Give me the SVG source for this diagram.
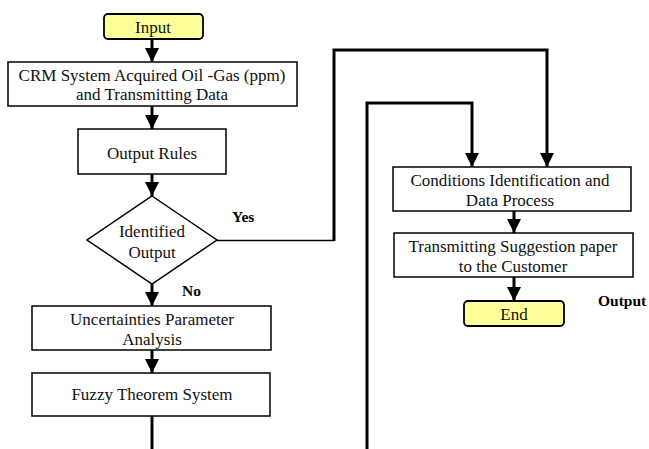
<svg xmlns="http://www.w3.org/2000/svg" width="649" height="449" viewBox="0 0 649 449">
<style>
.box{fill:#fff;stroke:#000;stroke-width:1.5}
.term{fill:#ffff99;stroke:#000;stroke-width:1.8}
.t{font-family:"Liberation Serif","Times New Roman",serif;font-size:17px;fill:#111;text-anchor:middle}
.b{font-family:"Liberation Serif","Times New Roman",serif;font-size:15.5px;font-weight:bold;fill:#000}
.c{fill:none;stroke:#000;stroke-width:3}
.cthin{fill:none;stroke:#000;stroke-width:1.5}
</style>
<defs>
<marker id="ah" markerUnits="userSpaceOnUse" markerWidth="14" markerHeight="14" viewBox="0 0 14 14" refX="14" refY="7" orient="auto">
<path d="M0,0 L14,7 L0,14 Z" fill="#000"/>
</marker>
</defs>
<rect width="649" height="449" fill="#fff"/>
<g id="connectors">
<line class="c" x1="152" y1="39" x2="152" y2="62" marker-end="url(#ah)"/>
<line class="c" x1="152" y1="106" x2="152" y2="129" marker-end="url(#ah)"/>
<line class="c" x1="152" y1="174" x2="152" y2="196" marker-end="url(#ah)"/>
<line class="c" x1="152" y1="284" x2="152" y2="306" marker-end="url(#ah)"/>
<line class="c" x1="152" y1="350" x2="152" y2="373" marker-end="url(#ah)"/>
<line class="c" x1="152" y1="416" x2="152" y2="449"/>
<line class="cthin" x1="217" y1="240.5" x2="334" y2="240.5"/>
<polyline class="c" points="334,241 334,50 547,50 547,167" marker-end="url(#ah)"/>
<polyline class="c" points="367,449 367,103 472,103 472,167" marker-end="url(#ah)"/>
<line class="c" x1="514" y1="211" x2="514" y2="233" marker-end="url(#ah)"/>
<line class="c" x1="514" y1="277" x2="514" y2="301" marker-end="url(#ah)"/>
</g>
<g id="input">
<rect class="term" x="104" y="14" width="99" height="25" rx="4"/>
<text class="t" x="153" y="33">Input</text>
</g>
<g id="crm">
<rect class="box" x="8" y="62" width="289" height="44"/>
<text class="t" x="152" y="81">CRM System Acquired Oil -Gas (ppm)</text>
<text class="t" x="152" y="100">and Transmitting Data</text>
</g>
<g id="rules">
<rect class="box" x="78" y="129" width="148" height="45"/>
<text class="t" x="152" y="159">Output Rules</text>
</g>
<g id="decision">
<polygon class="box" points="152,196 217,240 152,284 87,240"/>
<text class="t" x="152" y="237">Identified</text>
<text class="t" x="152" y="258">Output</text>
</g>
<g id="uncert">
<rect class="box" x="32" y="306" width="239" height="44"/>
<text class="t" x="152" y="325">Uncertainties Parameter</text>
<text class="t" x="152" y="345">Analysis</text>
</g>
<g id="fuzzy">
<rect class="box" x="32" y="373" width="238" height="43"/>
<text class="t" x="152" y="400">Fuzzy Theorem System</text>
</g>
<g id="conditions">
<rect class="box" x="393" y="167" width="238" height="44"/>
<text class="t" x="510" y="186">Conditions Identification and</text>
<text class="t" x="510" y="206">Data Process</text>
</g>
<g id="transmit">
<rect class="box" x="394" y="233" width="239" height="44"/>
<text class="t" x="513" y="252">Transmitting Suggestion paper</text>
<text class="t" x="513" y="272">to the Customer</text>
</g>
<g id="end">
<rect class="term" x="464" y="301" width="100" height="25" rx="4"/>
<text class="t" x="514" y="320">End</text>
</g>
<g id="labels">
<text class="b" x="232" y="222">Yes</text>
<text class="b" x="182" y="296">No</text>
<text class="b" x="598" y="306">Output</text>
</g>
</svg>
